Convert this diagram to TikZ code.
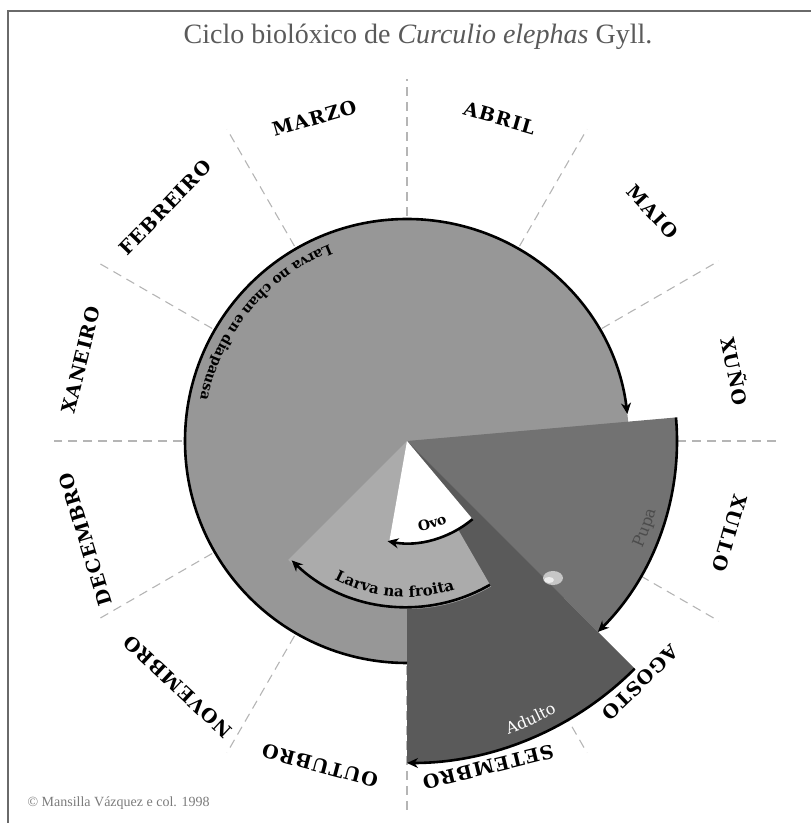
\documentclass[tikz,border=0pt]{standalone}
\usepackage{fontspec}
\setmainfont{Liberation Serif}
\newfontfamily\slabfont[LetterSpace=6]{DejaVu Serif}
\newfontfamily\arcfontfam{DejaVu Serif}
\usetikzlibrary{decorations.text,arrows.meta}
\definecolor{bigc}{HTML}{979797}
\definecolor{pupac}{HTML}{727272}
\definecolor{adulc}{HTML}{5A5A5A}
\definecolor{larvc}{HTML}{ABABAB}
\definecolor{dashc}{HTML}{B5B5B5}
\definecolor{framec}{HTML}{6A6A6A}
\definecolor{titlec}{HTML}{5A5A5A}
\tikzset{
  monthlbl/.style={font=\slabfont\bfseries\fontsize{19}{19}\selectfont, inner sep=0pt},
  arcarrow/.style={draw=black,line width=2.6pt,-{Stealth[length=11pt,width=10pt]}},
  sepline/.style={draw=dashc,line width=1.1pt,dash pattern=on 9pt off 6pt},
}
\begin{document}
\begin{tikzpicture}[x=1pt,y=1pt]
\useasboundingbox (0,0) rectangle (811,823);
\coordinate (C) at (407,382);
% frame
\draw[framec,line width=2.6pt] (8,0) -- (8,812) -- (811,812);
% title
\node[text=titlec,font=\fontsize{28}{28}\selectfont] (title) at (418,786) {Ciclo biolóxico de \textit{Curculio elephas} Gyll.};
% copyright
\node[text=titlec!80,font=\fontsize{14}{14}\selectfont,anchor=west] (copy) at (24,20) {© Mansilla Vázquez e col. 1998};
% separator lines
\foreach \a/\l in {0/372,30/360,60/360,90/362,120/360,150/356,180/353,210/356,240/360,270/370,300/360,330/360}
  \draw[sepline] (C) -- ++(\a:\l);
% sectors
\fill[bigc] (C) circle (222);
\fill[pupac] (C) -- ++(5:270) arc[start angle=5,end angle=-45,radius=270] -- cycle;
\fill[adulc] (C) -- ++(-45:322) arc[start angle=-45,end angle=-90,radius=322] -- cycle;
\fill[larvc] (C) -- ++(-60:168) arc[start angle=-60,end angle=-135,radius=168] -- cycle;
\fill[white] (C) -- ++(-50:102) arc[start angle=-50,end angle=-100,radius=102] -- cycle;
% pupa icon
\fill[gray!45] (553,245) ellipse (10 and 7);
\fill[gray!15] (549,243) ellipse (5 and 3);
% arrows
\draw[arcarrow] ([shift={(270:222)}]C) arc[start angle=270,end angle=7,radius=222];
\draw[arcarrow] ([shift={(5:270)}]C) arc[start angle=5,end angle=-45,radius=270];
\draw[arcarrow] ([shift={(-45:322)}]C) arc[start angle=-45,end angle=-90,radius=322];
\draw[arcarrow] ([shift={(-60:166)}]C) arc[start angle=-60,end angle=-134,radius=166];
\draw[arcarrow] ([shift={(-50:102)}]C) arc[start angle=-50,end angle=-101,radius=102];
% arc texts
\path[decorate,decoration={text along path,text align=center,
  text={|\arcfontfam\bfseries\fontsize{14}{14}\selectfont|Larva no chan en diapausa}}]
  ([shift={(96:211)}]C) arc[start angle=96,end angle=184,radius=211];
\path[decorate,decoration={text along path,text align=center,
  text={|\arcfontfam\bfseries\fontsize{15}{15}\selectfont|Larva na froita}}]
  ([shift={(-135:156)}]C) arc[start angle=-135,end angle=-55,radius=156];
\path[decorate,decoration={text along path,text align=center,
  text={|\arcfontfam\bfseries\fontsize{14}{14}\selectfont|Ovo}}]
  ([shift={(-96:91)}]C) arc[start angle=-96,end angle=-50,radius=91];
\path[decorate,decoration={text along path,text align=center,
  text={|\arcfontfam\color{black!70}\fontsize{16}{16}\selectfont|Pupa}}]
  ([shift={(-40:259)}]C) arc[start angle=-40,end angle=0,radius=259];
\path[decorate,decoration={text along path,text align=center,
  text={|\arcfontfam\color{white}\fontsize{16}{16}\selectfont|Adulto}}]
  ([shift={(-86:310)}]C) arc[start angle=-86,end angle=-46,radius=310];
% months
\foreach \ang/\name [count=\i] in {166/XANEIRO,136/FEBREIRO,106/MARZO,74/ABRIL,43/MAIO,12/XUÑO,-16/XULLO,-46/AGOSTO,-76/SETEMBRO,-105/OUTUBRO,-133/NOVEMBRO,-163/DECEMBRO}
  \node[monthlbl,rotate=\ang-90] (m\i) at ([shift={(\ang:336)}]C) {\name};
\end{tikzpicture}
\end{document}
